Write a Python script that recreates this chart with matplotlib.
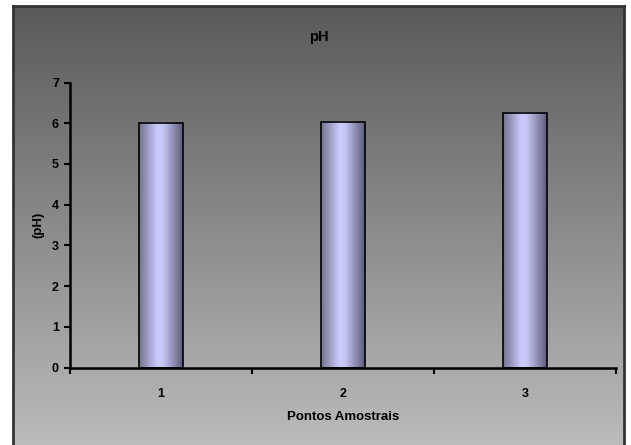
import numpy as np
import matplotlib.pyplot as plt
from matplotlib.colors import LinearSegmentedColormap

categories = ["1", "2", "3"]
ph_values = [6.0, 6.04, 6.25]
y_ticks = [0, 1, 2, 3, 4, 5, 6, 7]

plt.rcParams["font.family"] = ["Liberation Sans", "DejaVu Sans"]
plt.rcParams["font.weight"] = "bold"

W, H = 631, 445
fig = plt.figure(figsize=(W / 100, H / 100), dpi=100)
fig.patch.set_facecolor("white")

# chart area frame with vertical grey gradient
bg = fig.add_axes([13 / W, -0.02, (624 - 13) / W, 1.02 - 6 / H])
bg_cmap = LinearSegmentedColormap.from_list("bg", ["#5a5a5a", "#bdbdbd"])
bg.imshow(np.linspace(0, 1, 256).reshape(-1, 1), aspect="auto", cmap=bg_cmap,
          extent=(0, 1, 0, 1), origin="upper")
bg.set_xticks([])
bg.set_yticks([])
for side in ["left", "top", "right"]:
    bg.spines[side].set_color("#333333")
    bg.spines[side].set_linewidth(2)
bg.spines["bottom"].set_visible(False)

ax = fig.add_axes([70 / W, (H - 367.5) / H, (616 - 70) / W, (367.5 - 82.5) / H])
ax.patch.set_alpha(0)

x = np.arange(1, len(categories) + 1)
bars = ax.bar(x, ph_values, width=0.24, facecolor="none", edgecolor="black",
              linewidth=1.2, zorder=3)

bar_cmap = LinearSegmentedColormap.from_list(
    "bar", [(0, "#72728f"), (0.42, "#ccccff"), (0.55, "#c6c6f6"), (1, "#5c5c78")])
grad = np.linspace(0, 1, 128).reshape(1, -1)
for b in bars:
    ax.imshow(grad, aspect="auto", cmap=bar_cmap, zorder=2,
              extent=(b.get_x(), b.get_x() + b.get_width(), 0, b.get_height()))

ax.set_xlim(0.5, len(categories) + 0.5)
ax.set_ylim(0, 7)
ax.set_yticks(y_ticks)
ax.set_xticks(np.arange(0.5, len(categories) + 1, 1))
ax.set_xticklabels([])
ax.set_xticks(x, minor=True)
ax.set_xticklabels(categories, minor=True)
ax.tick_params(axis="x", which="major", direction="out", length=4, width=1.5)
ax.tick_params(axis="x", which="minor", length=0, pad=15, labelsize=9)
ax.tick_params(axis="y", direction="out", length=4, width=1.5, labelsize=9, pad=4)

for side in ["top", "right"]:
    ax.spines[side].set_visible(False)
for side in ["left", "bottom"]:
    ax.spines[side].set_linewidth(1.8)

ax.set_xlabel("Pontos Amostrais", fontsize=9.5, fontweight="bold", labelpad=8)
ax.set_ylabel("(pH)", fontsize=9.5, fontweight="bold", labelpad=5)

fig.text(319 / W, 1 - 37 / H, "pH", ha="center", va="center", fontsize=10.5,
         fontweight="bold")

fig.savefig("out.png", dpi=100)
